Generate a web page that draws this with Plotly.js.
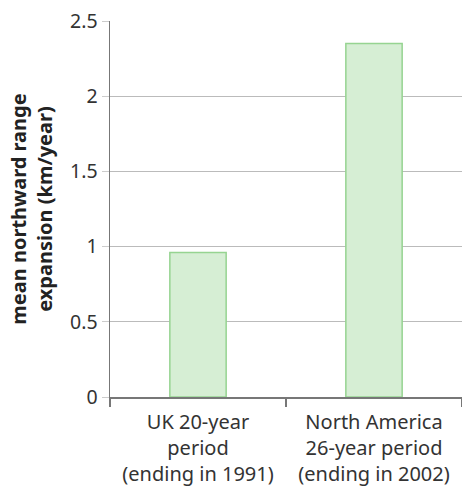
<!DOCTYPE html>
<html>
<head>
<meta charset="utf-8">
<script src="https://cdn.plot.ly/plotly-3.0.1.min.js"></script>
<style>html,body{margin:0;padding:0;background:#fff;}#chart{width:462px;height:487px;}</style>
</head>
<body>
<div id="chart"></div>
<script>
var categories = ["UK 20-year<br>period<br>(ending in 1991)", "North America<br>26-year period<br>(ending in 2002)"];
var values = [0.96, 2.35];
var yTickVals = [0, 0.5, 1, 1.5, 2, 2.5];
var yTickText = ["0", "0.5", "1", "1.5", "2", "2.5"];

var trace = {
  type: "bar",
  x: categories,
  y: values,
  width: 0.32,
  marker: {color: "#d6eed4", line: {color: "#96d491", width: 1.5}},
  hoverinfo: "none"
};

var layout = {
  width: 462, height: 487,
  margin: {l: 110, r: 0, t: 21, b: 90},
  paper_bgcolor: "#fff", plot_bgcolor: "#fff",
  font: {family: "Noto Sans, Open Sans, sans-serif", color: "#333", size: 20},
  showlegend: false,
  xaxis: {
    type: "category",
    range: [-0.5, 1.5],
    tickson: "boundaries",
    ticks: "outside", ticklen: 8, tickwidth: 1.5, tickcolor: "#777",
    ticklabelstandoff: 6,
    showline: true, linecolor: "#777", linewidth: 1.5,
    showgrid: false, zeroline: false,
    tickfont: {size: 20, color: "#333"}
  },
  yaxis: {
    range: [0, 2.5],
    tickvals: yTickVals, ticktext: yTickText,
    ticks: "outside", ticklen: 7, tickcolor: "#ccc", tickwidth: 1,
    showline: true, linecolor: "#777", linewidth: 1.5,
    showgrid: true, gridcolor: "#bbb", gridwidth: 1.2,
    zeroline: false,
    tickfont: {size: 19.5, color: "#333"},
    title: {text: "<b>mean northward range<br>expansion (km/year)</b>", font: {size: 20, color: "#222"}, standoff: 12}
  }
};

Plotly.newPlot("chart", [trace], layout, {displayModeBar: false, staticPlot: true});
</script>
</body>
</html>
